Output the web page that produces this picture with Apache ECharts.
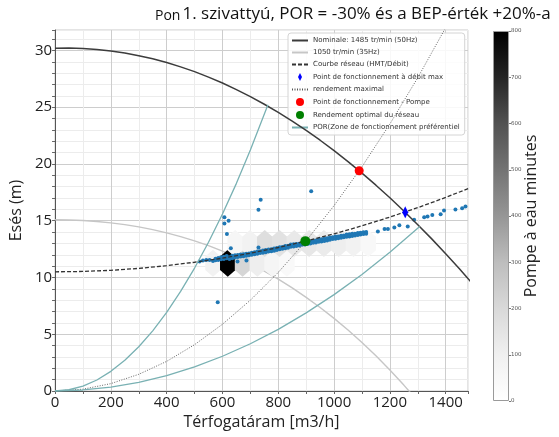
<!DOCTYPE html>
<html><head><meta charset="utf-8">
<script src="https://cdn.jsdelivr.net/npm/echarts@6/dist/echarts.min.js"></script>
<style>html,body{margin:0;padding:0;background:#fff}#c{width:559px;height:437px}</style>
</head><body><div id="c"></div>
<script>
// ---- data ----
const nominal50Hz = [[0,30.20],[50,30.21],[100,30.18],[150,30.09],[200,29.96],[250,29.77],[300,29.54],[350,29.26],[400,28.93],[450,28.55],[500,28.13],[550,27.65],[600,27.13],[650,26.55],[700,25.93],[750,25.26],[800,24.54],[850,23.77],[900,22.95],[950,22.09],[1000,21.17],[1050,20.21],[1100,19.19],[1150,18.13],[1200,17.02],[1250,15.86],[1300,14.65],[1350,13.40],[1400,12.09],[1450,10.74],[1500,9.33]];
const curve35Hz = [[0,15.08],[50,15.06],[100,15.02],[150,14.93],[200,14.81],[250,14.66],[300,14.46],[350,14.22],[400,13.93],[450,13.60],[500,13.23],[550,12.80],[600,12.32],[650,11.79],[700,11.20],[750,10.55],[800,9.85],[850,9.08],[900,8.25],[950,7.36],[1000,6.40],[1050,5.37],[1100,4.27],[1150,3.10],[1200,1.85],[1250,0.52],[1300,-0.88]];
const networkCurve = [[0,10.50],[100,10.53],[200,10.63],[300,10.80],[400,11.04],[500,11.34],[600,11.70],[700,12.14],[800,12.64],[900,13.21],[1000,13.84],[1100,14.55],[1200,15.32],[1300,16.15],[1400,17.05],[1500,18.02]];
const maxEfficiency = [[0,0],[100,0.16],[200,0.65],[300,1.47],[400,2.61],[500,4.08],[600,5.88],[700,8.00],[800,10.45],[900,13.23],[1000,16.33],[1100,19.76],[1200,23.52],[1300,27.60],[1400,32.01]];
const porUpper = [[0,0],[50,0.11],[100,0.43],[150,0.97],[200,1.73],[250,2.71],[300,3.90],[350,5.30],[400,6.93],[450,8.77],[500,10.83],[550,13.10],[600,15.59],[650,18.29],[700,21.22],[763,25.21]];
const porLower = [[0,0],[100,0.09],[200,0.34],[300,0.76],[400,1.36],[500,2.12],[600,3.06],[700,4.16],[800,5.43],[900,6.88],[1000,8.49],[1100,10.27],[1200,12.23],[1307,14.50]];
const pointMaxFlow = [[1255,15.75]];
const pointPump = [[1090,19.40]];
const pointOptimal = [[897,13.20]];
// hexbin cells: [Q, H, minutes]
const hexCells = [[566,11.25,90],[619,11.25,800],[672,11.25,210],[725,11.25,110],[778,11.25,70],[831,11.25,40],
  [645.5,13.0,60],[698.5,13.0,90],[751.5,13.0,180],[804.5,13.0,160],[857.5,13.0,130],[910.5,13.0,140],[963.5,13.0,120],[1016.5,13.0,110],[1069.5,13.0,90],[1122.5,13.0,50]];
const measuredPoints = [
 [575,11.66],[575,11.52],[585,11.72],[585,11.55],[595,11.60],[595,11.78],[605,11.82],[605,11.63],[615,11.70],[615,11.90],
 [625,11.78],[625,11.62],[635,11.92],[635,11.70],[645,11.75],[645,11.95],[655,11.98],[655,11.80],[665,11.85],[665,12.02],
 [675,12.05],[675,11.88],[685,11.92],[685,12.10],[695,12.12],[695,11.95],[705,12.00],[705,12.18],[715,12.22],[715,12.05],
 [725,12.10],[725,12.28],[735,12.30],[735,12.15],[745,12.18],[745,12.38],[755,12.42],[755,12.22],[765,12.28],[765,12.46],
 [775,12.48],[775,12.32],[785,12.36],[785,12.55],[795,12.60],[795,12.42],[805,12.48],[805,12.66],[815,12.68],[815,12.52],
 [825,12.58],[825,12.78],[835,12.80],[835,12.62],[845,12.70],[845,12.90],[855,12.92],[855,12.72],[865,12.78],[865,12.95],
 [875,12.98],[875,12.82],[885,12.88],[885,13.06],[895,13.08],[895,12.90],[905,12.96],[905,13.15],[915,13.18],[915,13.00],
 [925,13.05],[925,13.24],[935,13.26],[935,13.08],[945,13.14],[945,13.34],[955,13.36],[955,13.18],[965,13.22],[965,13.42],
 [975,13.45],[975,13.26],[985,13.32],[985,13.52],[995,13.55],[995,13.38],[1005,13.42],[1005,13.60],[1015,13.62],[1015,13.46],
 [1025,13.50],[1025,13.68],[1035,13.70],[1035,13.55],[1045,13.58],[1045,13.78],[1055,13.80],[1055,13.62],[1065,13.66],[1065,13.85],
 [1075,13.86],[1075,13.70],[1085,13.74],[1085,13.92],[1095,13.94],[1095,13.78],[1105,13.82],[1105,13.98],[1115,14.00],[1115,13.86],
 [518,11.40],[530,11.50],[542,11.55],[554,11.55],[566,11.46],[654,11.40],[686,11.50],[630,12.58],[729,12.64],[616,13.84],
 [607,14.76],[622,15.00],[607,15.30],[729,15.96],[737,16.84],[918,17.60],[583,7.82],
 [1157,14.05],[1181,14.26],[1193,14.26],[1216,14.40],[1234,14.60],[1264,14.50],[1287,15.08],[1323,15.30],[1335,15.37],[1352,15.50],
 [1382,15.58],[1394,15.90],[1435,15.98],[1459,16.10],[1471,16.25]];
const colorbarTicks = [0,100,200,300,400,500,600,700,800];

// ---- chart ----
const greys = ['#ffffff','#f0f0f0','#d9d9d9','#bdbdbd','#969696','#737373','#525252','#252525','#000000'];
const FONT = 'Open Sans';
const names = {
  nom: 'Nominale: 1485 tr/min (50Hz)', h35: '1050 tr/min (35Hz)', net: 'Courbe réseau (HMT/Débit)',
  pmax: 'Point de fonctionnement à débit max', eff: 'rendement maximal', pump: 'Point de fonctionnement - Pompe',
  opt: 'Rendement optimal du réseau', por: 'POR(Zone de fonctionnement préférentiel'
};
const noSym = {opacity: 0};
const chart = echarts.init(document.getElementById('c'), null, {renderer: 'canvas'});
const lineBase = {type: 'line', showSymbol: false, symbol: 'none', silent: true, xAxisIndex: 0, yAxisIndex: 0, z: 4};
chart.setOption({
  animation: false,
  backgroundColor: '#fff',
  title: {
    left: 150, top: -6,
    text: '{a|Pon}{b|1. szivattyú, POR = -30% és a BEP-érték +20%-a}',
    textStyle: {fontWeight: 'normal', rich: {
      a: {fontSize: 14, fontFamily: FONT, fontWeight: 'normal', color: '#111', verticalAlign: 'bottom', lineHeight: 24, padding: [0, 2, 0, 0]},
      b: {fontSize: 17, fontFamily: FONT, fontWeight: 'normal', color: '#111', verticalAlign: 'bottom', lineHeight: 24}
    }}
  },
  legend: {
    left: 288, top: 33, orient: 'vertical', itemWidth: 16, itemHeight: 8, itemGap: 5,
    padding: [4, 5, 4, 3], backgroundColor: 'rgba(255,255,255,0.85)', borderColor: '#d4d4d4', borderWidth: 1, borderRadius: 3,
    textStyle: {fontSize: 7, fontFamily: 'DejaVu Sans', color: '#333'},
    data: [{name: names.nom, itemStyle: noSym}, {name: names.h35, itemStyle: noSym}, {name: names.net, itemStyle: noSym},
           {name: names.pmax, icon: 'path://M0,-2L1,0L0,2L-1,0Z'}, {name: names.eff, itemStyle: noSym},
           {name: names.pump, icon: 'circle'}, {name: names.opt, icon: 'circle'}, {name: names.por, itemStyle: noSym}]
  },
  visualMap: {type: 'continuous', show: false, seriesIndex: 0, dimension: 2, min: 0, max: 800, inRange: {color: greys}},
  grid: [
    {left: 51, top: 30, right: 91, bottom: 46, show: true, borderColor: '#c8c8c8', borderWidth: 1},
    {left: 493, top: 31, width: 16, height: 370}
  ],
  xAxis: [
    {type: 'value', gridIndex: 0, min: 0, max: 1480, interval: 100,
     name: 'Térfogatáram [m3/h]', nameLocation: 'middle', nameGap: 22,
     nameTextStyle: {fontFamily: FONT, fontSize: 16, color: '#222'},
     axisLine: {show: true, onZero: false, lineStyle: {color: '#555', width: 1}},
     axisTick: {show: true, length: 3, lineStyle: {color: '#666'}},
     axisLabel: {fontFamily: FONT, fontSize: 15, color: '#222', margin: 4, formatter: v => (v % 200 === 0 ? String(v) : '')},
     splitLine: {show: true, lineStyle: {color: ['#cdcdcd', '#ececec'], width: 1}}},
    {type: 'category', gridIndex: 1, data: [''], show: false}
  ],
  yAxis: [
    {type: 'value', gridIndex: 0, min: 0, max: 31.8, interval: 1,
     name: 'Esés (m)', nameLocation: 'middle', nameGap: 19,
     nameTextStyle: {fontFamily: FONT, fontSize: 16, color: '#222'},
     axisLine: {show: true, onZero: false, lineStyle: {color: '#555', width: 1}},
     axisTick: {show: true, length: 3, lineStyle: {color: '#666'}},
     axisLabel: {fontFamily: FONT, fontSize: 15, color: '#222', margin: 3, formatter: v => (v % 5 === 0 ? String(v) : '')},
     splitLine: {show: true, lineStyle: {color: ['#cdcdcd', '#ececec', '#ececec', '#ececec', '#ececec'], width: 1}}},
    {type: 'value', gridIndex: 1, position: 'right', min: colorbarTicks[0], max: colorbarTicks[colorbarTicks.length - 1], interval: 100,
     name: 'Pompe à eau minutes', nameLocation: 'middle', nameGap: 14, nameRotate: 90, nameMoveOverlap: false,
     nameTextStyle: {fontFamily: FONT, fontSize: 16, color: '#222'},
     axisLine: {show: false}, axisTick: {show: true, length: 2, lineStyle: {color: '#777'}},
     axisLabel: {fontSize: 5.5, color: '#555', margin: 2, fontFamily: 'DejaVu Sans'},
     splitLine: {show: false}}
  ],
  series: [
    {name: 'hex', type: 'scatter', silent: true, xAxisIndex: 0, yAxisIndex: 0, z: 2,
     symbol: 'path://M0,-1L0.866,-0.5L0.866,0.5L0,1L-0.866,0.5L-0.866,-0.5Z',
     symbolSize: [15.5, 27], symbolKeepAspect: false, itemStyle: {opacity: 1}, data: hexCells},
    Object.assign({}, lineBase, {name: names.h35, data: curve35Hz, z: 1, lineStyle: {color: '#c6c6c6', width: 1.4}}),
    Object.assign({}, lineBase, {name: names.nom, data: nominal50Hz, lineStyle: {color: '#3c3c3c', width: 1.5}}),
    Object.assign({}, lineBase, {name: names.net, data: networkCurve, lineStyle: {color: '#333', width: 1.3, type: [4, 2]}}),
    Object.assign({}, lineBase, {name: names.eff, data: maxEfficiency, lineStyle: {color: '#555', width: 0.9, type: [1, 1.5]}}),
    Object.assign({}, lineBase, {name: names.por, data: porUpper, lineStyle: {color: '#79b1b3', width: 1.3}}),
    Object.assign({}, lineBase, {name: names.por, data: porLower, lineStyle: {color: '#79b1b3', width: 1.3}}),
    {name: 'mesures', type: 'scatter', silent: true, z: 3, symbol: 'circle', symbolSize: 4,
     itemStyle: {color: '#1f77b4', opacity: 1}, data: measuredPoints},
    {name: names.pmax, type: 'scatter', silent: true, z: 6, symbol: 'diamond', symbolSize: [6, 12],
     itemStyle: {color: '#0000ff', opacity: 1}, data: pointMaxFlow},
    {name: names.pump, type: 'scatter', silent: true, z: 6, symbol: 'circle', symbolSize: 9,
     itemStyle: {color: '#ff0000', opacity: 1}, data: pointPump},
    {name: names.opt, type: 'scatter', silent: true, z: 6, symbol: 'circle', symbolSize: 10,
     itemStyle: {color: '#008000', opacity: 1}, data: pointOptimal},
    {name: 'colorbar', type: 'bar', silent: true, xAxisIndex: 1, yAxisIndex: 1, barWidth: '100%',
     data: [colorbarTicks[colorbarTicks.length - 1]],
     itemStyle: {borderColor: '#9a9a9a', borderWidth: 1,
       color: new echarts.graphic.LinearGradient(0, 0, 0, 1, greys.slice().reverse().map((c, i) => ({offset: i / 8, color: c})))}}
  ]
});
</script></body></html>
